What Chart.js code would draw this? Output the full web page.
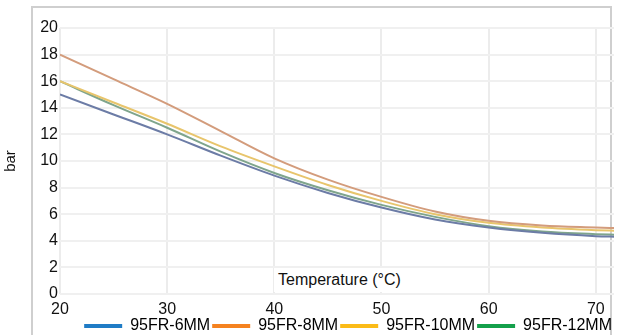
<!DOCTYPE html>
<html>
<head>
<meta charset="utf-8">
<script src="https://cdn.jsdelivr.net/npm/chart.js@4"></script>
<style>
html,body{margin:0;padding:0;background:#fff;}
#wrap{position:relative;width:618px;height:335px;overflow:hidden;}
#frame{position:absolute;left:31px;top:6px;width:581px;height:400px;border:2px solid #cfcfcf;box-sizing:border-box;}
#c{position:absolute;left:0;top:0;}
#xt{position:absolute;left:274px;top:268px;background:#fff;padding:0 4px;font:16px "Liberation Sans",Arial,sans-serif;color:#111;line-height:24px;}
</style>
</head>
<body>
<div id="wrap">
<div id="frame"></div>
<canvas id="c" width="618" height="335"></canvas>
<div id="xt">Temperature (°C)</div>
</div>
<script>
const temps = [20, 25, 30, 35, 40, 45, 50, 55, 60, 65, 70, 72];
const s6mm  = [15.0, 13.5, 12.0, 10.4, 8.9, 7.6, 6.5, 5.6, 5.0, 4.6, 4.35, 4.3];
const s8mm  = [18.0, 16.15, 14.3, 12.25, 10.2, 8.6, 7.3, 6.2, 5.5, 5.15, 5.0, 4.95];
const s10mm = [16.0, 14.4, 12.8, 11.1, 9.6, 8.2, 7.0, 6.0, 5.35, 5.0, 4.8, 4.75];
const s12mm = [16.0, 14.2, 12.5, 10.7, 9.1, 7.8, 6.7, 5.8, 5.1, 4.7, 4.5, 4.45];
const seriesNames = ['95FR-6MM', '95FR-8MM', '95FR-10MM', '95FR-12MM'];
const legendColors = ['#1f7cc6', '#f5821f', '#fbbb17', '#14a04b'];
const lineColors = ['#6c7ca6', '#d39c7c', '#e8c56c', '#7fa58c'];
const allSeries = [s6mm, s8mm, s10mm, s12mm];

const FONT = '"Liberation Sans", Arial, sans-serif';

const datasets = allSeries.map((vals, i) => ({
  label: seriesNames[i],
  data: temps.map((t, j) => ({x: t, y: vals[j]})),
  borderColor: lineColors[i],
  backgroundColor: legendColors[i],
  borderWidth: 2,
  pointRadius: 0,
  cubicInterpolationMode: 'monotone',
  fill: false
}));

new Chart(document.getElementById('c'), {
  type: 'line',
  data: { datasets },
  options: {
    responsive: false,
    animation: false,
    layout: { padding: { top: 28, right: 4, left: 2, bottom: -9 } },
    plugins: {
      tooltip: { enabled: false },
      legend: {
        position: 'bottom',
        align: 'end',
        labels: {
          boxWidth: 38,
          boxHeight: 4,
          padding: 2,
          color: '#111',
          font: { family: FONT, size: 16 },
          generateLabels: (chart) => chart.data.datasets.map((d, i) => ({
            text: d.label,
            fillStyle: legendColors[i],
            strokeStyle: legendColors[i],
            lineWidth: 0,
            hidden: false,
            datasetIndex: i
          }))
        }
      }
    },
    scales: {
      x: {
        type: 'linear',
        min: 20,
        max: 71.7,
        ticks: { stepSize: 10, includeBounds: false, color: '#111', padding: 6, maxRotation: 0,
                 font: { family: FONT, size: 16 } },
        grid: { color: '#ececec', lineWidth: 2, drawTicks: false },
        border: { display: false },
        afterFit: (s) => { s.height = 22; }
      },
      y: {
        min: 0,
        max: 20,
        ticks: { stepSize: 2, color: '#111', padding: 2, font: { family: FONT, size: 16 } },
        grid: { color: '#f0f0f0', lineWidth: 2, drawTicks: false },
        border: { display: false },
        title: { display: true, text: 'bar', color: '#111', padding: { top: 0, bottom: 0 },
                 font: { family: FONT, size: 15 } },
        afterFit: (s) => { s.width = 58; }
      }
    }
  }
});
</script>
</body>
</html>
